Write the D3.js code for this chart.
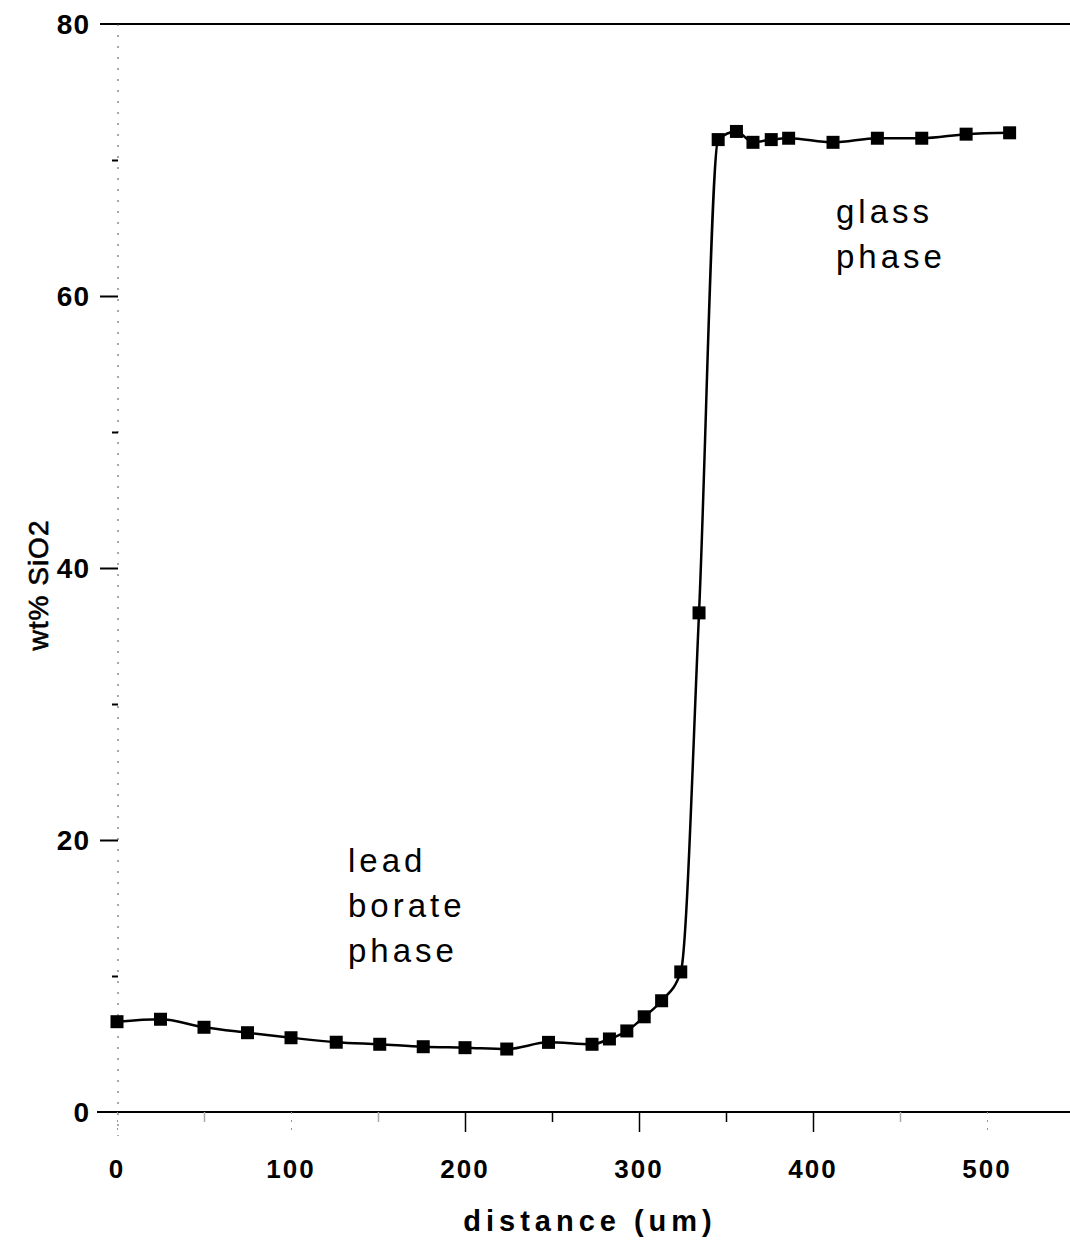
<!DOCTYPE html>
<html>
<head>
<meta charset="utf-8">
<script src="https://cdn.jsdelivr.net/npm/d3@7"></script>
<style>
  html, body { margin: 0; padding: 0; background: #fff; }
  svg { display: block; }
</style>
</head>
<body>
<svg id="chart" width="1070" height="1241"></svg>
<script>
// Data
const distance = [0, 25, 50, 75, 100, 126, 151, 176, 200, 224, 248, 273, 283, 293, 303, 313, 324, 334.5, 345.5, 356, 365.5, 376, 386, 411.5, 437, 462.5, 488, 513];
const sio2     = [6.64, 6.82, 6.23, 5.83, 5.46, 5.13, 4.98, 4.80, 4.73, 4.63, 5.12, 4.98, 5.37, 5.96, 7.0, 8.18, 10.3, 36.7, 71.5, 72.1, 71.3, 71.5, 71.6, 71.3, 71.6, 71.6, 71.9, 72.0];

const xTicks = [0, 100, 200, 300, 400, 500];
const xMinorTicks = [50, 150, 250, 350, 450];
const yTicks = [0, 20, 40, 60, 80];
const yMinorTicks = [10, 30, 50, 70];

const xTitle = "distance (um)";
const yTitle = "wt% SiO2";
const noteLow = ["lead", "borate", "phase"];
const noteHigh = ["glass", "phase"];

const svg = d3.select("#chart");
const W = 1070, H = 1241;

const x = d3.scaleLinear().domain([0, 500]).range([117, 987]);
const y = d3.scaleLinear().domain([0, 80]).range([1112, 24]);

const font = "'Liberation Sans', Arial, sans-serif";

// top frame line (at 80)
svg.append("line")
  .attr("x1", 100).attr("x2", W)
  .attr("y1", y(80)).attr("y2", y(80))
  .attr("stroke", "#000").attr("stroke-width", 2);

// bottom axis line
svg.append("line")
  .attr("x1", 97).attr("x2", W)
  .attr("y1", y(0)).attr("y2", y(0))
  .attr("stroke", "#000").attr("stroke-width", 2);

// faint dotted y axis line
svg.append("line")
  .attr("x1", x(0) + 1).attr("x2", x(0) + 1)
  .attr("y1", y(80)).attr("y2", y(0) + 24)
  .attr("stroke", "#555").attr("stroke-width", 1)
  .attr("stroke-dasharray", "2,9");

// y axis via d3
const yAxis = d3.axisLeft(y).tickValues(yTicks.filter(v => v !== 80 && v !== 0)).tickSize(18).tickFormat("");
const gy = svg.append("g").attr("transform", `translate(${x(0) + 1},0)`).call(yAxis);
gy.select(".domain").remove();
gy.selectAll(".tick line").attr("stroke", "#000").attr("stroke-width", 2);

const yMinor = d3.axisLeft(y).tickValues(yMinorTicks).tickSize(6).tickFormat("");
const gym = svg.append("g").attr("transform", `translate(${x(0) + 1},0)`).call(yMinor);
gym.select(".domain").remove();
gym.selectAll(".tick line").attr("stroke", "#000").attr("stroke-width", 2);

// y tick labels
svg.append("g").selectAll("text").data(yTicks).join("text")
  .attr("x", 90).attr("y", d => y(d) + 10)
  .attr("text-anchor", "end")
  .attr("font-family", font).attr("font-weight", "bold").attr("font-size", 28)
  .attr("letter-spacing", 1)
  .attr("fill", "#000")
  .text(d => d);

// x axis ticks via d3
const xAxis = d3.axisBottom(x).tickValues(xTicks).tickSize(20).tickFormat("");
const gx = svg.append("g").attr("transform", `translate(0,${y(0)})`).call(xAxis);
gx.select(".domain").remove();
gx.selectAll(".tick line")
  .attr("stroke", d => (d >= 200 && d <= 400) ? "#000" : "#999")
  .attr("stroke-width", d => (d >= 200 && d <= 400) ? 1.5 : 1)
  .attr("stroke-dasharray", d => (d >= 200 && d <= 400) ? null : "2,6");

const xMinor = d3.axisBottom(x).tickValues(xMinorTicks).tickSize(10).tickFormat("");
const gxm = svg.append("g").attr("transform", `translate(0,${y(0)})`).call(xMinor);
gxm.select(".domain").remove();
gxm.selectAll(".tick line")
  .attr("stroke", d => (d >= 200 && d <= 400) ? "#000" : "#aaa")
  .attr("stroke-width", 1.5);

// x tick labels
svg.append("g").selectAll("text").data(xTicks).join("text")
  .attr("x", d => x(d)).attr("y", 1178)
  .attr("text-anchor", "middle")
  .attr("font-family", font).attr("font-weight", "bold").attr("font-size", 26)
  .attr("letter-spacing", 2)
  .attr("fill", "#000")
  .text(d => d);

// axis titles
svg.append("text")
  .attr("x", 590).attr("y", 1231)
  .attr("text-anchor", "middle")
  .attr("font-family", font).attr("font-weight", "bold").attr("font-size", 29)
  .attr("letter-spacing", 5)
  .attr("fill", "#000")
  .text(xTitle);

svg.append("text")
  .attr("transform", "translate(48,585) rotate(-90)")
  .attr("text-anchor", "middle")
  .attr("font-family", font).attr("font-size", 28)
  .attr("letter-spacing", 1)
  .attr("stroke", "#000").attr("stroke-width", 0.6)
  .attr("fill", "#000")
  .text(yTitle);

// data line
const line = d3.line()
  .x((d, i) => x(distance[i]))
  .y(d => y(d))
  .curve(d3.curveMonotoneX);

svg.append("path")
  .datum(sio2)
  .attr("d", line)
  .attr("fill", "none")
  .attr("stroke", "#000")
  .attr("stroke-width", 2.5);

// square markers
const s = 13;
svg.append("g").selectAll("rect").data(sio2).join("rect")
  .attr("x", (d, i) => x(distance[i]) - s / 2)
  .attr("y", d => y(d) - s / 2)
  .attr("width", s).attr("height", s)
  .attr("fill", "#000");

// annotations
svg.append("text")
  .attr("font-family", font).attr("font-size", 33).attr("letter-spacing", 4)
  .attr("fill", "#000")
  .selectAll("tspan").data(noteLow).join("tspan")
  .attr("x", 348).attr("y", (d, i) => 872 + i * 45)
  .text(d => d);

svg.append("text")
  .attr("font-family", font).attr("font-size", 33).attr("letter-spacing", 4)
  .attr("fill", "#000")
  .selectAll("tspan").data(noteHigh).join("tspan")
  .attr("x", 836).attr("y", (d, i) => 223 + i * 45)
  .text(d => d);
</script>
</body>
</html>
